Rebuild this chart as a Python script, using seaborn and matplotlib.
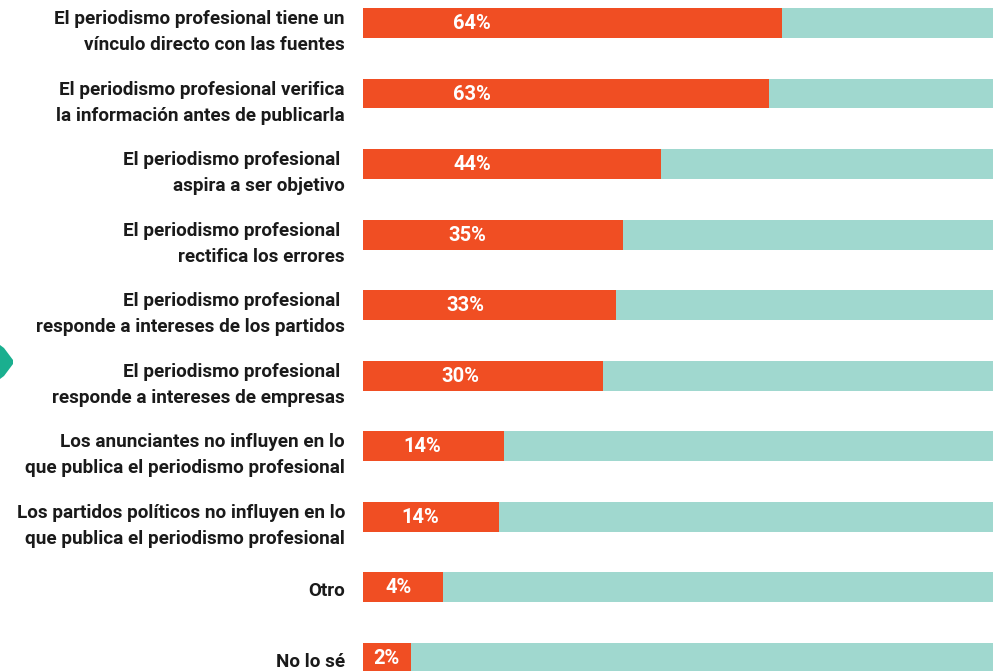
import matplotlib
matplotlib.use("Agg")
import matplotlib.pyplot as plt
from matplotlib.patches import Polygon
import seaborn as sns
import pandas as pd

# Data
categorias = [
    "El periodismo profesional tiene un\nvínculo directo con las fuentes",
    "El periodismo profesional verifica\nla información antes de publicarla",
    "El periodismo profesional \naspira a ser objetivo",
    "El periodismo profesional \nrectifica los errores",
    "El periodismo profesional \nresponde a intereses de los partidos",
    "El periodismo profesional \nresponde a intereses de empresas",
    "Los anunciantes no influyen en lo\nque publica el periodismo profesional",
    "Los partidos políticos no influyen en lo\nque publica el periodismo profesional",
    "Otro",
    "No lo sé",
]
porcentajes = [64, 63, 44, 35, 33, 30, 14, 14, 4, 2]
# bar lengths as drawn in the graphic (not strictly proportional to the labels)
largo_barra = [66.5, 64.4, 47.3, 41.3, 40.2, 38.1, 22.4, 21.6, 12.7, 7.6]
total = [100] * len(categorias)

df = pd.DataFrame({"cat": categorias, "pct": porcentajes,
                   "barra": largo_barra, "total": total})

sns.set_style("white")
plt.rcParams["font.family"] = ["Roboto", "DejaVu Sans"]

naranja = "#f04e23"
celeste = "#a0d8cf"
verde = "#1aaf8f"

fig = plt.figure(figsize=(10.02, 6.71), dpi=100)
ax = fig.add_axes([363 / 1002, 0, 630 / 1002, 1])

sns.barplot(data=df, x="total", y="cat", orient="h", color=celeste,
            saturation=1, width=0.425, linewidth=0, ax=ax)
sns.barplot(data=df, x="barra", y="cat", orient="h", color=naranja,
            saturation=1, width=0.425, linewidth=0, ax=ax)

ax.set_xlim(0, 100)
ax.set_ylim(9.19, -0.326)
ax.axis("off")

for i, row in df.iterrows():
    xl = min(0.38 * row["barra"] + 0.9, 17.3)
    ax.text(xl, i + 0.01, f"{row['pct']}%", color="white", fontsize=14.5,
            fontweight="bold", ha="center", va="center")
    off = 0.13 if "\n" in row["cat"] else 0.06
    ax.text(-2.86, i + off, row["cat"], color="#1a1a1a", fontsize=13.6,
            fontweight="bold", ha="right", va="center",
            multialignment="right", linespacing=1.55, clip_on=False)

# teal marker cut at the left edge
fig.patches.append(Polygon([(0, 1 - 345 / 671), (0.004, 1 - 348 / 671),
                            (13 / 1002, 1 - 360 / 671), (13 / 1002, 1 - 364 / 671),
                            (0.004, 1 - 376 / 671), (0, 1 - 379 / 671)],
                           closed=True, transform=fig.transFigure,
                           facecolor=verde, edgecolor="none"))

fig.savefig("out.png", dpi=100)
